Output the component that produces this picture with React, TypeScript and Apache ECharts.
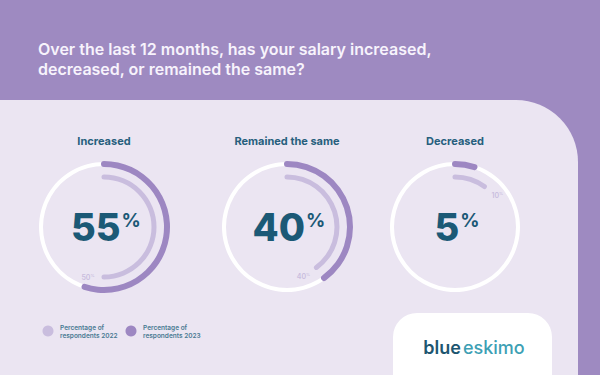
import React, { useEffect, useRef } from 'react';
import * as echarts from 'echarts';

// ---- data ----
const titleText = 'Over the last 12 months, has your salary increased,\ndecreased, or remained the same?';
const categories = ['Increased', 'Remained the same', 'Decreased'];
const values2023 = [55, 40, 5];
const values2022 = [50, 40, 10];
const legendLabels = ['Percentage of\nrespondents 2022', 'Percentage of\nrespondents 2023'];
const brandParts = ['blue', 'eskimo'];

// ---- layout / style ----
const centersX = [104, 287, 455];
const centerY = 227;
const C = {
  bg: '#9E8AC1',
  panel: '#EBE5F2',
  dark: '#9D87C2',
  light: '#C9BDDE',
  track: '#FFFFFF',
  navy: '#1B5976',
  heading: '#275F7D',
  legendText: '#4A7A93',
  title: '#F7F3FC',
  brandDark: '#1D5670',
  brandLight: '#3D9FB4',
};
const FONT = 'Inter, "Noto Sans", sans-serif';
const R_OUT = 63; // mid radius of outer ring
const R_IN = 50; // mid radius of inner ring

const hidden = {
  pointer: { show: false },
  anchor: { show: false },
  axisTick: { show: false },
  splitLine: { show: false },
  axisLabel: { show: false },
  title: { show: false },
};

export default function App() {
  const ref = useRef<HTMLDivElement>(null);
  useEffect(() => {
    if (!ref.current) return;
    const chart = echarts.init(ref.current, null, { renderer: 'svg' });
    const series: any[] = [];
    categories.forEach((name, i) => {
      const cx = centersX[i];
      // white track
      series.push({
        type: 'gauge', center: [cx, centerY], radius: R_OUT + 2, startAngle: 90, endAngle: -270,
        min: 0, max: 100, ...hidden,
        axisLine: { show: true, lineStyle: { width: 4, color: [[1, C.track]] } },
        progress: { show: false }, detail: { show: false },
        data: [{ value: 0, name }],
      });
      // 2023 outer progress
      series.push({
        type: 'gauge', center: [cx, centerY], radius: R_OUT + 3, startAngle: 90, endAngle: -270,
        min: 0, max: 100, ...hidden,
        axisLine: { show: false },
        progress: { show: true, width: 6, roundCap: true, itemStyle: { color: C.dark } },
        detail: {
          show: true, offsetCenter: [2, 0],
          formatter: (v: number) => `{n|${v}}{p|%}`,
          rich: {
            n: { fontSize: 38, fontWeight: 800, color: C.navy, fontFamily: FONT, lineHeight: 40 },
            p: { fontSize: 19, fontWeight: 700, color: C.navy, fontFamily: FONT, verticalAlign: 'top', padding: [4, 0, 0, 1] },
          },
        },
        data: [{ value: values2023[i], name }],
      });
      // 2022 inner progress
      const v22 = values2022[i];
      const th = (v22 / 100) * Math.PI * 2;
      const ex = R_IN * Math.sin(th), ey = -R_IN * Math.cos(th);
      const off = 16;
      series.push({
        type: 'gauge', center: [cx, centerY], radius: R_IN + 2.5, startAngle: 90, endAngle: -270,
        min: 0, max: 100, ...hidden,
        axisLine: { show: false },
        progress: { show: true, width: 5, roundCap: true, itemStyle: { color: C.light } },
        detail: {
          show: true,
          offsetCenter: [ex + Math.cos(th) * off, ey + Math.sin(th) * off],
          formatter: (v: number) => `{n|${v}}{p|%}`,
          rich: {
            n: { fontSize: 7, fontWeight: 600, color: C.light, fontFamily: FONT, lineHeight: 8 },
            p: { fontSize: 4, fontWeight: 600, color: C.light, fontFamily: FONT, verticalAlign: 'top', lineHeight: 5 },
          },
        },
        data: [{ value: v22, name }],
      });
    });

    const graphic: any[] = [
      { type: 'rect', z: -10, shape: { x: 0, y: 100, width: 578, height: 320, r: [0, 62, 0, 0] }, style: { fill: C.panel } },
      { type: 'rect', z: -9, shape: { x: 393, y: 313, width: 159, height: 100, r: [24, 24, 0, 0] }, style: { fill: '#FFFFFF' } },
      {
        type: 'text', x: 38, y: 39, z: 5,
        style: { text: titleText, fill: C.title, fontSize: 16, fontWeight: 600, fontFamily: FONT, lineHeight: 20, verticalAlign: 'top' },
      },
      {
        type: 'text', x: 474, y: 347, z: 5,
        style: {
          text: `{a|${brandParts[0]}}{b|${brandParts[1]}}`, align: 'center', verticalAlign: 'middle',
          rich: {
            a: { fontSize: 18, fontWeight: 600, fill: C.brandDark, fontFamily: FONT },
            b: { fontSize: 18, fontWeight: 500, fill: C.brandLight, fontFamily: FONT, padding: [0, 0, 0, 2] },
          },
        },
      },
    ];
    categories.forEach((name, i) => {
      graphic.push({
        type: 'text', x: centersX[i], y: 141, z: 5,
        style: { text: name, fill: C.heading, fontSize: 11, fontWeight: 700, fontFamily: FONT, align: 'center', verticalAlign: 'middle' },
      });
    });
    const legendX = [48, 131];
    const legendColors = [C.light, C.dark];
    legendLabels.forEach((lbl, i) => {
      graphic.push({ type: 'circle', z: 5, shape: { cx: legendX[i], cy: 331, r: 5.5 }, style: { fill: legendColors[i] } });
      graphic.push({
        type: 'text', x: legendX[i] + 12, y: 332, z: 5,
        style: { text: lbl, fill: C.legendText, fontSize: 6.5, fontWeight: 600, fontFamily: FONT, lineHeight: 8, verticalAlign: 'middle' },
      });
    });

    chart.setOption({
      animation: false,
      backgroundColor: C.bg,
      graphic,
      series,
    });
    return () => chart.dispose();
  }, []);
  return <div ref={ref} style={{ position: 'absolute', left: 0, top: 0, width: 600, height: 375 }} />;
}
